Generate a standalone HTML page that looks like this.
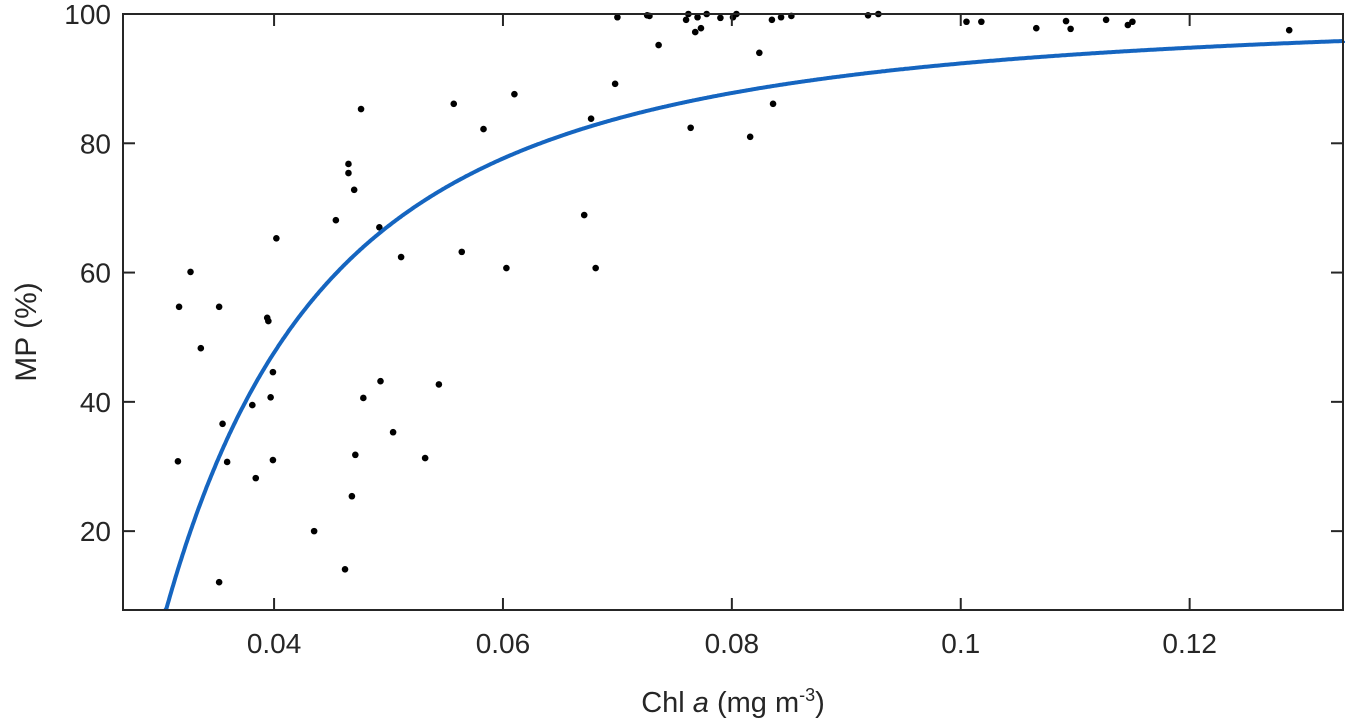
<!DOCTYPE html>
<html><head><meta charset="utf-8"><style>
html,body{margin:0;padding:0;background:#fff;}
svg{display:block;font-family:"Liberation Sans",Arial,sans-serif;}
</style></head><body>
<svg id="chart" width="1350" height="726" viewBox="0 0 1350 726">
<g id="grid"></g><g id="pts"></g><g id="curve"></g><g id="axes"></g>
<text x="733" y="712" text-anchor="middle" font-size="29" fill="#262626">Chl <tspan font-style="italic">a</tspan> (mg m<tspan font-size="18" dy="-11">-3</tspan><tspan dy="11">)</tspan></text>
<text transform="translate(36,332) rotate(-90)" text-anchor="middle" font-size="30" fill="#262626">MP (%)</text>
</svg>
<script>
const xVals=[0.0316,0.0317,0.0327,0.0336,0.0352,0.0355,0.0359,0.0352,0.0381,0.0384,0.0394,0.0395,0.0397,0.0399,0.0399,0.0402,0.0435,0.0454,0.0462,0.0465,0.0465,0.0468,0.0470,0.0471,0.0476,0.0478,0.0492,0.0493,0.0504,0.0511,0.0532,0.0544,0.0557,0.0564,0.0583,0.0603,0.0610,0.0671,0.0677,0.0681,0.0698,0.0700,0.0726,0.0728,0.0736,0.0760,0.0762,0.0764,0.0768,0.0773,0.0770,0.0778,0.0790,0.0801,0.0804,0.0816,0.0824,0.0835,0.0836,0.0843,0.0852,0.0919,0.0928,0.1005,0.1018,0.1066,0.1092,0.1096,0.1127,0.1146,0.1150,0.1287];
const yVals=[30.8,54.7,60.1,48.3,54.7,36.6,30.7,12.1,39.5,28.2,53.0,52.5,40.7,44.6,31.0,65.3,20.0,68.1,14.1,75.4,76.8,25.4,72.8,31.8,85.3,40.6,67.0,43.2,35.3,62.4,31.3,42.7,86.1,63.2,82.2,60.7,87.6,68.9,83.8,60.7,89.2,99.5,99.8,99.7,95.2,99.1,100,82.4,97.2,97.8,99.5,100,99.4,99.5,100,81.0,94.0,99.1,86.1,99.5,99.7,99.8,100,98.8,98.8,97.8,98.9,97.7,99.1,98.3,98.8,97.5];
const xTicks=[0.04,0.06,0.08,0.1,0.12];
const xTickLabels=["0.04","0.06","0.08","0.1","0.12"];
const yTicks=[20,40,60,80,100];
const yTickLabels=["20","40","60","80","100"];
const fitC=[0.0294], fitN=[2.1];
const L=123,R=1343,T=14,B=610, xmin=0.0268,xmax=0.1334,ymin=7.8,ymax=100;
const sx=v=>L+(v-xmin)/(xmax-xmin)*(R-L);
const sy=v=>B-(v-ymin)/(ymax-ymin)*(B-T);
const NS="http://www.w3.org/2000/svg";
function mk(tag,parent,attrs){const e=document.createElementNS(NS,tag);for(const k in attrs)e.setAttribute(k,attrs[k]);document.getElementById(parent).appendChild(e);return e;}
xVals.forEach((x,i)=>{const c=mk('circle','pts',{cx:sx(x),cy:sy(yVals[i]),r:3.3,fill:'#000'});

});
let d='';for(let x=fitC[0];x<=xmax+0.0002;x+=0.0001){const y=100*(1-Math.pow(fitC[0]/x,fitN[0]));if(y<ymin-1)continue;d+=(d?'L':'M')+sx(Math.min(x,xmax)).toFixed(1)+','+sy(Math.max(y,ymin)).toFixed(1);}
const p=mk('path','curve',{d:d,fill:'none',stroke:'#1565c0','stroke-width':4});


const box=mk('rect','axes',{x:L,y:T,width:R-L,height:B-T,fill:'none',stroke:'#262626','stroke-width':2});


xTicks.forEach((t,i)=>{const X=sx(t);
mk('line','axes',{x1:X,x2:X,y1:B,y2:B-12,stroke:'#262626','stroke-width':2});
mk('line','axes',{x1:X,x2:X,y1:T,y2:T+12,stroke:'#262626','stroke-width':2});
const tx=mk('text','axes',{x:X,y:B+43,'text-anchor':'middle','font-size':28,fill:'#262626'});tx.textContent=xTickLabels[i];

});
yTicks.forEach((t,i)=>{const Y=sy(t);
mk('line','axes',{x1:L,x2:L+12,y1:Y,y2:Y,stroke:'#262626','stroke-width':2});
mk('line','axes',{x1:R,x2:R-12,y1:Y,y2:Y,stroke:'#262626','stroke-width':2});
const tx=mk('text','axes',{x:L-12,y:Y+10,'text-anchor':'end','font-size':28,fill:'#262626'});tx.textContent=yTickLabels[i];

});
</script>
</body></html>
